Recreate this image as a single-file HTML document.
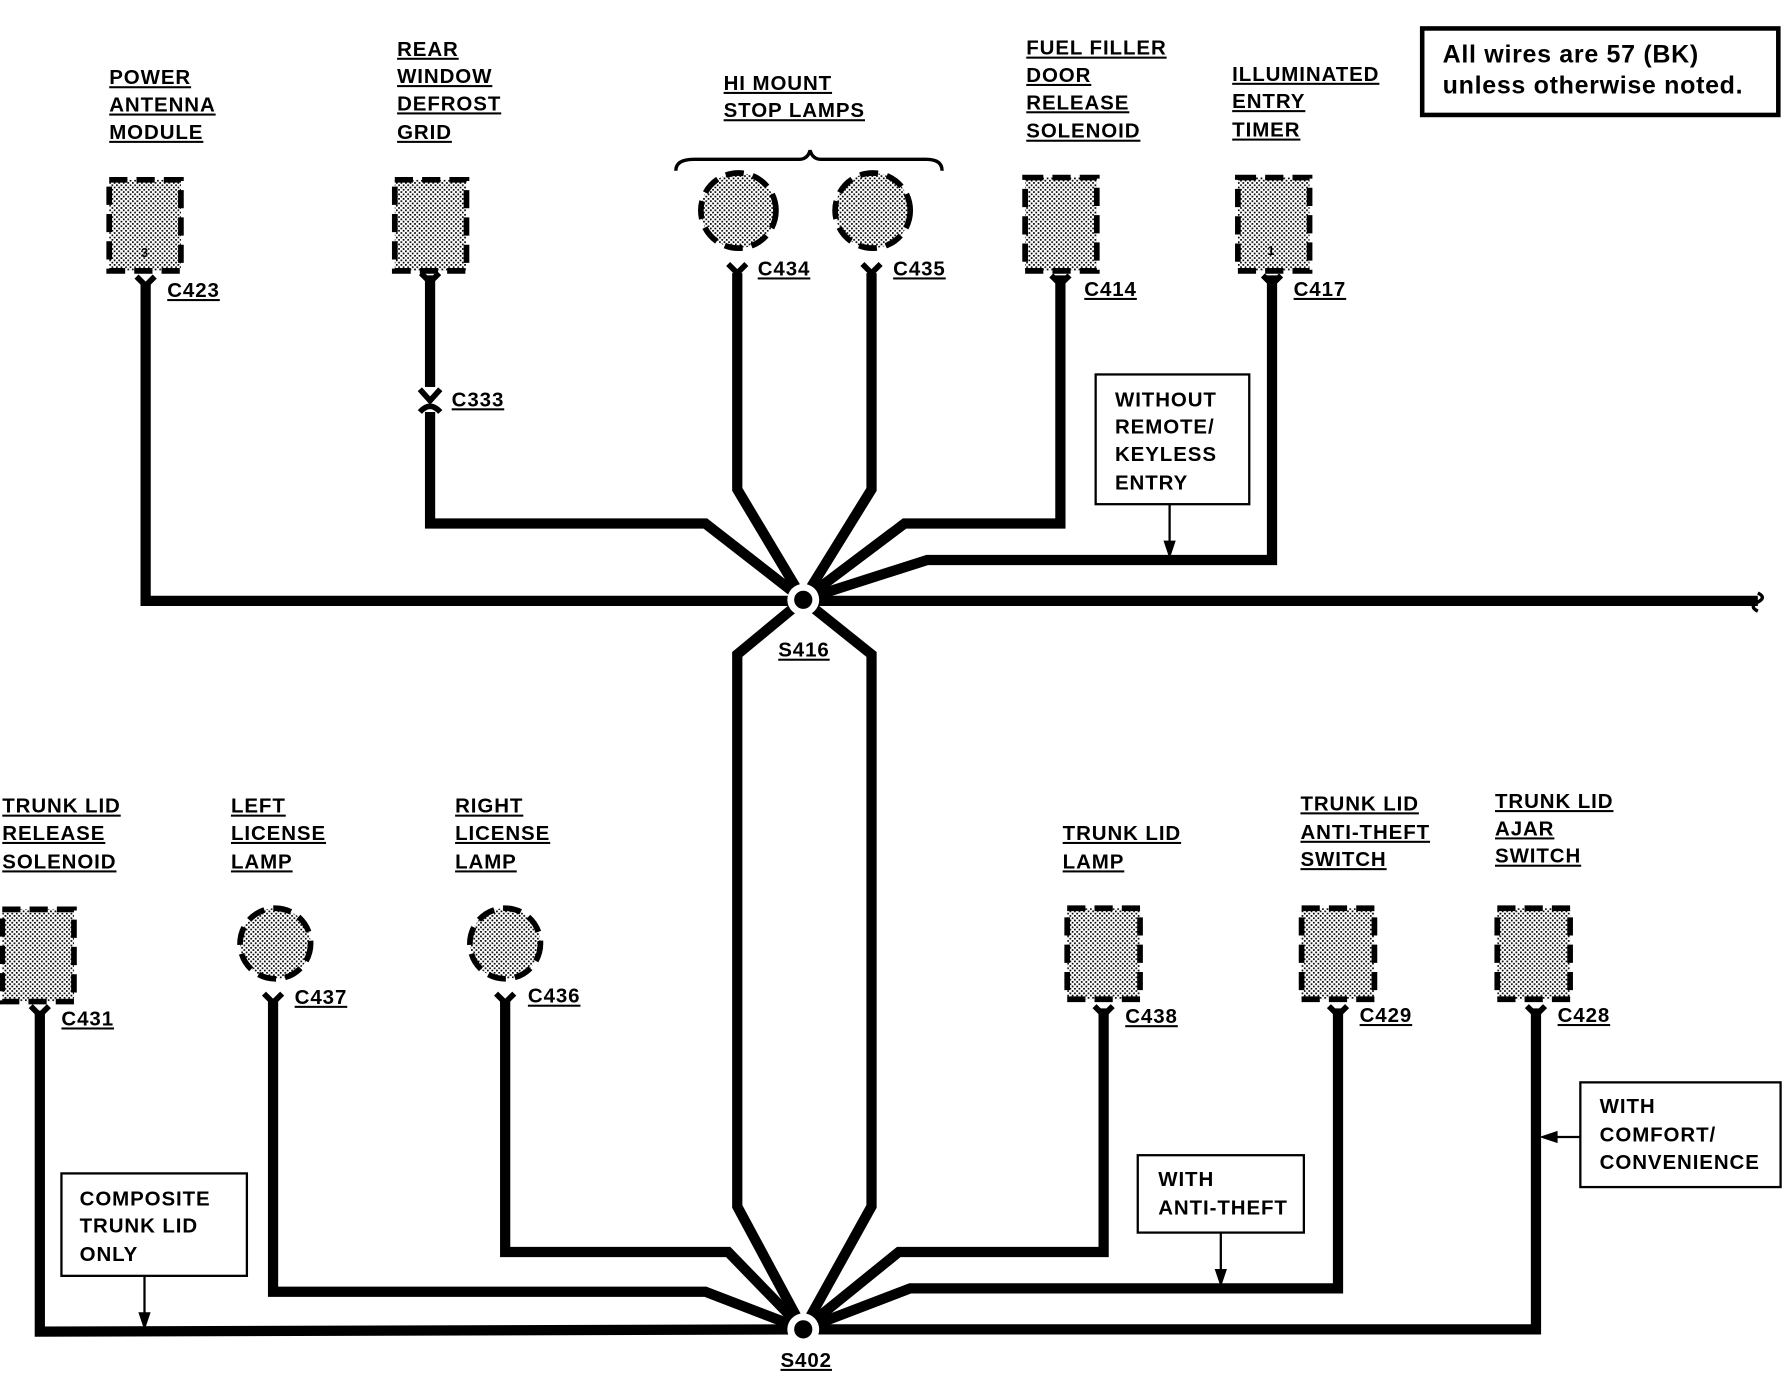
<!DOCTYPE html>
<html><head><style>
html,body{margin:0;padding:0;background:#fff;}
svg{display:block;}
text{font-family:"Liberation Sans",sans-serif;font-weight:bold;font-size:18px;fill:#000;letter-spacing:0.8px;}
.u{text-decoration:underline;}
</style></head><body>
<svg width="1784" height="1376" viewBox="0 0 1568 1209" preserveAspectRatio="none" xmlns="http://www.w3.org/2000/svg">
<defs>
<pattern id="st" width="4" height="4" patternUnits="userSpaceOnUse">
<rect width="4" height="4" fill="#fff"/><rect width="1.5" height="1.5" fill="#000"/><rect x="2" y="2" width="1.5" height="1.5" fill="#000"/>
</pattern>
</defs>
<g fill="none" stroke="#000" stroke-width="9" stroke-linejoin="miter">
<polyline points="128,250 128,528 1545,528"/>
<polyline points="378,242 378,460 620,460 706,527"/>
<polyline points="648,240 648,430 706,527"/>
<polyline points="766,240 766,430 706,527"/>
<polyline points="932,242 932,460 795,460 706,527"/>
<polyline points="1118,242 1118,492 815,492 706,527"/>
<polyline points="706,527 648,575 648,1060 706,1168"/>
<polyline points="706,527 766,575 766,1060 706,1168"/>
<polyline points="35,888 35,1170 706,1168"/>
<polyline points="240,880 240,1135 620,1135 706,1168"/>
<polyline points="444,880 444,1100 640,1100 706,1168"/>
<polyline points="970,886 970,1100 790,1100 706,1168"/>
<polyline points="1176,886 1176,1132 800,1132 706,1168"/>
<polyline points="1350,886 1350,1168 706,1168"/>
</g>
<path d="M1545,521 q8,4 0,8 q-8,4 0,8" fill="none" stroke="#000" stroke-width="3"/>
<circle cx="706" cy="527" r="14" fill="#fff"/><circle cx="706" cy="527" r="8" fill="#000"/>
<circle cx="706" cy="1168" r="14" fill="#fff"/><circle cx="706" cy="1168" r="8" fill="#000"/>
<rect x="366" y="340" width="24" height="22" fill="#fff"/>
<path d="M369,342 L378,352 L387,342" fill="none" stroke="#000" stroke-width="5"/>
<path d="M369,362 Q378,352 387,362" fill="none" stroke="#000" stroke-width="5"/>
<g fill="url(#st)" stroke="#000" stroke-width="5" stroke-dasharray="16,8">
<rect x="96" y="158" width="63" height="80"/>
<rect x="347" y="158" width="63" height="80"/>
<circle cx="649" cy="185" r="33"/>
<circle cx="767" cy="185" r="33"/>
<rect x="901" y="156" width="63" height="82"/>
<rect x="1088" y="156" width="63" height="82"/>
<rect x="2" y="799" width="63" height="81"/>
<circle cx="242" cy="829" r="31"/>
<circle cx="444" cy="829" r="31"/>
<rect x="938" y="798" width="64" height="80"/>
<rect x="1144" y="798" width="64" height="80"/>
<rect x="1316" y="798" width="64" height="80"/>
</g>
<text x="124" y="226" style="font-size:11px">3</text>
<text x="1114" y="224" style="font-size:11px">1</text>
<g fill="none" stroke="#000" stroke-width="5">
<path d="M120,243 L128,251 L136,243"/><path d="M370,240 L378,248 L386,240"/>
<path d="M640,232 L648,240 L656,232"/><path d="M758,232 L766,240 L774,232"/>
<path d="M924,242 L932,250 L940,242"/><path d="M1110,242 L1118,250 L1126,242"/>
<path d="M27,884 L35,892 L43,884"/><path d="M232,873 L240,881 L248,873"/>
<path d="M436,873 L444,881 L452,873"/><path d="M962,884 L970,892 L978,884"/>
<path d="M1168,884 L1176,892 L1184,884"/><path d="M1342,884 L1350,892 L1358,884"/>
</g>
<text x="147" y="261" class="u">C423</text>
<text x="397" y="357" class="u">C333</text>
<text x="666" y="242" class="u">C434</text>
<text x="785" y="242" class="u">C435</text>
<text x="953" y="260" class="u">C414</text>
<text x="1137" y="260" class="u">C417</text>
<text x="684" y="577" class="u">S416</text>
<text x="686" y="1201" class="u">S402</text>
<text x="54" y="901" class="u">C431</text>
<text x="259" y="882" class="u">C437</text>
<text x="464" y="881" class="u">C436</text>
<text x="989" y="899" class="u">C438</text>
<text x="1195" y="898" class="u">C429</text>
<text x="1369" y="898" class="u">C428</text>
<text x="96" y="74" class="u">POWER</text><text x="96" y="98" class="u">ANTENNA</text><text x="96" y="122" class="u">MODULE</text>
<text x="349" y="49" class="u">REAR</text><text x="349" y="73" class="u">WINDOW</text><text x="349" y="97" class="u">DEFROST</text><text x="349" y="122" class="u">GRID</text>
<text x="636" y="79" class="u">HI MOUNT</text><text x="636" y="103" class="u">STOP LAMPS</text>
<path d="M594,150 Q594,140 610,140 L702,140 Q710,140 712,132 Q714,140 722,140 L814,140 Q828,140 828,150" fill="none" stroke="#000" stroke-width="3"/>
<text x="902" y="48" class="u">FUEL FILLER</text><text x="902" y="72" class="u">DOOR</text><text x="902" y="96" class="u">RELEASE</text><text x="902" y="121" class="u">SOLENOID</text>
<text x="1083" y="71" class="u">ILLUMINATED</text><text x="1083" y="95" class="u">ENTRY</text><text x="1083" y="120" class="u">TIMER</text>
<text x="2" y="714" class="u">TRUNK LID</text><text x="2" y="738" class="u">RELEASE</text><text x="2" y="763" class="u">SOLENOID</text>
<text x="203" y="714" class="u">LEFT</text><text x="203" y="738" class="u">LICENSE</text><text x="203" y="763" class="u">LAMP</text>
<text x="400" y="714" class="u">RIGHT</text><text x="400" y="738" class="u">LICENSE</text><text x="400" y="763" class="u">LAMP</text>
<text x="934" y="738" class="u">TRUNK LID</text><text x="934" y="763" class="u">LAMP</text>
<text x="1143" y="712" class="u">TRUNK LID</text><text x="1143" y="737" class="u">ANTI-THEFT</text><text x="1143" y="761" class="u">SWITCH</text>
<text x="1314" y="710" class="u">TRUNK LID</text><text x="1314" y="734" class="u">AJAR</text><text x="1314" y="758" class="u">SWITCH</text>
<g fill="#fff" stroke="#000">
<rect x="1250" y="25" width="313" height="76" stroke-width="4"/>
<rect x="963" y="329" width="135" height="114" stroke-width="2"/>
<rect x="54" y="1031" width="163" height="90" stroke-width="2"/>
<rect x="1000" y="1015" width="146" height="68" stroke-width="2"/>
<rect x="1389" y="951" width="176" height="92" stroke-width="2"/>
</g>
<text x="1268" y="55" style="font-size:22px;letter-spacing:0.6px">All wires are 57 (BK)</text>
<text x="1268" y="82" style="font-size:22px;letter-spacing:0.6px">unless otherwise noted.</text>
<text x="980" y="357">WITHOUT</text><text x="980" y="381">REMOTE/</text><text x="980" y="405">KEYLESS</text><text x="980" y="430">ENTRY</text>
<text x="70" y="1059">COMPOSITE</text><text x="70" y="1083">TRUNK LID</text><text x="70" y="1108">ONLY</text>
<text x="1018" y="1042">WITH</text><text x="1018" y="1067">ANTI-THEFT</text>
<text x="1406" y="978">WITH</text><text x="1406" y="1003">COMFORT/</text><text x="1406" y="1027">CONVENIENCE</text>
<g stroke="#000" stroke-width="2" fill="#000">
<line x1="1028" y1="443" x2="1028" y2="480"/><path d="M1024,476 L1028,488 L1032,476Z"/>
<line x1="127" y1="1121" x2="127" y2="1158"/><path d="M123,1154 L127,1166 L131,1154Z"/>
<line x1="1073" y1="1083" x2="1073" y2="1120"/><path d="M1069,1116 L1073,1128 L1077,1116Z"/>
<line x1="1389" y1="999" x2="1364" y2="999"/><path d="M1368,995 L1356,999 L1368,1003Z"/>
</g>
</svg>
</body></html>
